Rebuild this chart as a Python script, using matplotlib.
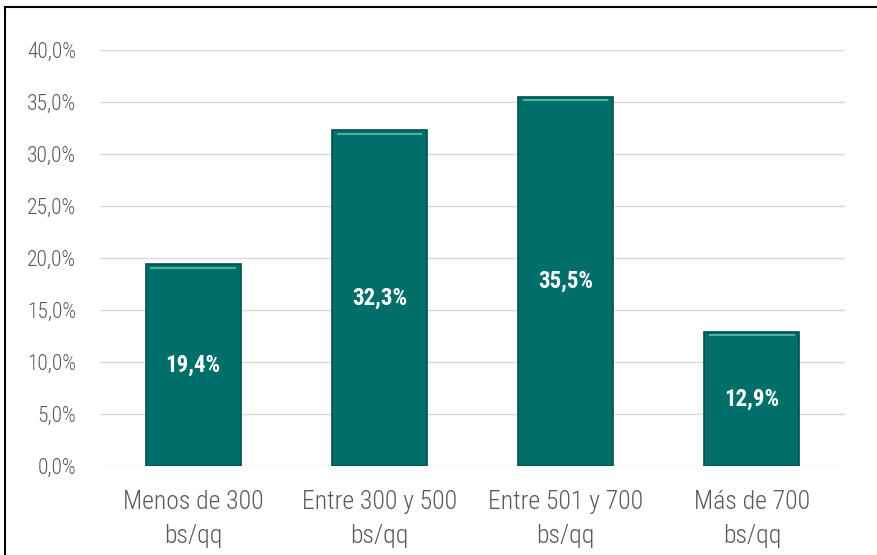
import matplotlib
matplotlib.use('Agg')
import matplotlib.pyplot as plt
from matplotlib.lines import Line2D
from matplotlib.ticker import FuncFormatter
import numpy as np

categories = ['Menos de 300\nbs/qq', 'Entre 300 y 500\nbs/qq', 'Entre 501 y 700\nbs/qq', 'Más de 700\nbs/qq']
values = [19.4, 32.3, 35.5, 12.9]
yticks = [0, 5, 10, 15, 20, 25, 30, 35, 40]

plt.rcParams['font.family'] = ['Roboto Condensed', 'DejaVu Sans']

fig = plt.figure(figsize=(8.78, 5.55), dpi=100)
ax = fig.add_axes([100/878, 1 - 466/555, 745/878, 416/555])

x = np.arange(len(values))
w = 0.51
bars = ax.bar(x, values, width=w, color='#006f69', edgecolor='#00504c', linewidth=1.2, zorder=3)
# light highlight line near the top of each bar
ax.hlines([v - 0.35 for v in values], x - w/2 + 0.025, x + w/2 - 0.025, color='#4cb0a8', linewidth=1.5, zorder=4)

ax.bar_label(bars, labels=[f'{v:.1f}%'.replace('.', ',') for v in values], label_type='center',
             color='white', fontsize=16.5, fontweight='bold', zorder=5)

ax.set_xlim(-0.5, 3.5)
ax.set_ylim(0, 40)
ax.set_yticks(yticks)
ax.yaxis.set_major_formatter(FuncFormatter(lambda v, p: f'{v:.1f}%'.replace('.', ',')))
ax.set_xticks(x)
ax.set_xticklabels(categories, linespacing=1.55)
for t in ax.get_xticklabels() + ax.get_yticklabels():
    t.set_fontweight(300)
ax.grid(axis='y', color='#d9d9d9', linewidth=1, zorder=0)
for s in ax.spines.values():
    s.set_visible(False)
ax.tick_params(axis='y', length=0, pad=17, labelsize=15.5, labelcolor='#595959')
ax.tick_params(axis='x', length=0, pad=17, labelsize=18.5, labelcolor='#595959')

# frame lines along left and top edges
fig.add_artist(Line2D([5/878, 5/878], [0, 1 - 7/555], color='black', linewidth=1.5))
fig.add_artist(Line2D([5/878, 1], [1 - 7/555, 1 - 7/555], color='black', linewidth=1.5))

fig.savefig('out.png', dpi=100)
